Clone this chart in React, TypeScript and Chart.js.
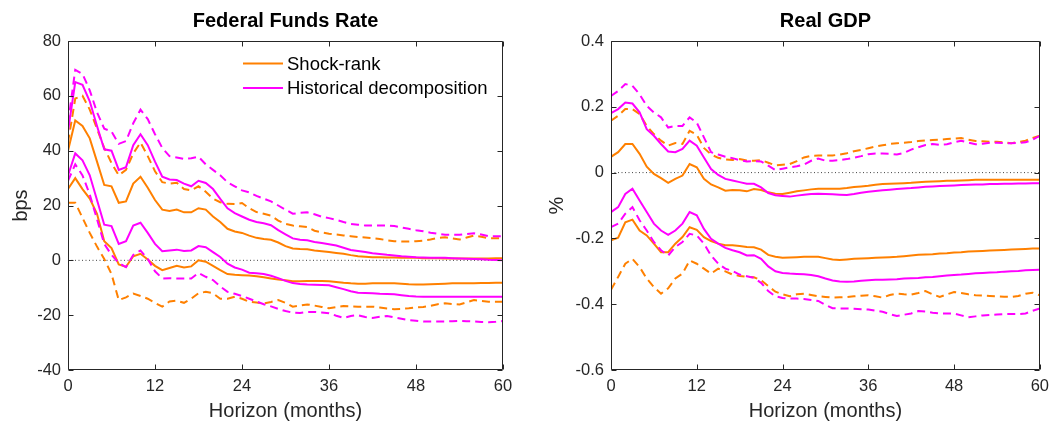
import React, { useEffect, useRef } from "react";
import { Chart, registerables } from "chart.js";
Chart.register(...registerables);

// Horizon (months)
const horizon = [
  0, 1, 2, 3, 4, 5, 6, 7, 8, 9, 10, 11, 12, 13, 14, 15, 16, 17, 18, 19, 20,
  21, 22, 23, 24, 25, 26, 27, 28, 29, 30, 31, 32, 33, 34, 35, 36, 37, 38, 39, 40,
  41, 42, 43, 44, 45, 46, 47, 48, 49, 50, 51, 52, 53, 54, 55, 56, 57, 58, 59, 60,
];
const xTicks = [0, 12, 24, 36, 48, 60];
const legendLabels = ["Shock-rank", "Historical decomposition"];
const panelTitles = ["Federal Funds Rate", "Real GDP"];
const yTitles = ["bps", "%"];
const xTitle = "Horizon (months)";

// Federal Funds Rate (bps) — Shock-rank (orange)
const ffrSrHi = [40, 51, 49, 44.5, 36, 27.5, 27, 21, 21.5, 28, 30.5, 26.5, 22, 18.5, 18, 18.5, 17.5, 17.5, 19, 18.5, 16, 14, 11.5, 10.5, 10, 9, 8.2, 7.8, 7.5, 6.5, 5.2, 4.3, 4.1, 4, 3.6, 3.3, 3, 2.7, 2.4, 1.9, 1.5, 1.3, 1.1, 1.1, 1, 1, 0.9, 0.9, 0.9, 0.8, 0.8, 0.8, 0.7, 0.7, 0.7, 0.7, 0.7, 0.7, 0.7, 0.8, 0.8];
const ffrSrLo = [26, 30, 26, 22.5, 17, 7, 4.5, -1.5, -2.4, 1.5, 2.4, 0.3, -2, -3.6, -2.8, -2, -2.6, -2.2, 0, -0.5, -2, -3.6, -5, -5.3, -5.4, -5.5, -5.8, -6.2, -6.6, -7, -7.3, -7.6, -7.6, -7.5, -7.5, -7.5, -7.6, -7.9, -8.2, -8.4, -8.5, -8.5, -8.4, -8.4, -8.4, -8.4, -8.5, -8.7, -8.8, -8.8, -8.7, -8.6, -8.5, -8.4, -8.4, -8.4, -8.4, -8.3, -8.3, -8.2, -8.2];
const ffrSrHi90 = [43, 59, 60, 55, 48, 41, 35.5, 31, 33, 39, 43, 38, 32.5, 28.5, 28, 28.3, 26, 25.5, 27, 25, 22.5, 21.2, 20.6, 20.5, 20.9, 19, 17.6, 17, 16.3, 14.5, 13.3, 12.7, 12.4, 12.1, 10.8, 10.2, 9.7, 9.4, 9.1, 8.8, 8.5, 8.3, 8.1, 7.8, 7.3, 7, 6.9, 6.9, 7, 7.2, 7.6, 8.2, 8.4, 8, 7.6, 8.3, 9, 8.6, 8.1, 8.1, 8.1];
const ffrSrLo90 = [21, 21, 15.5, 10, 5, 0.5, -5, -14.5, -13.5, -12.1, -13, -14, -15.5, -16.9, -15, -14.7, -15.5, -14, -12, -11.5, -12, -14, -14, -13.3, -14, -15.1, -15.4, -15.7, -15.2, -14.5, -15.5, -16.9, -16.5, -16.1, -16.5, -17, -17.5, -17.1, -16.7, -16.8, -16.9, -16.9, -16.9, -17.2, -17.6, -17.8, -17.7, -17.5, -17.2, -17, -16.6, -16, -15.7, -15.9, -16.1, -15.3, -14.5, -14.8, -15.1, -15.1, -15.1];
// Federal Funds Rate (bps) — Historical decomposition (magenta)
const ffrHdHi = [47, 65, 64, 58, 49, 40.5, 40, 33, 34, 42, 46, 42, 36, 30.5, 29.5, 29.3, 28, 27, 29, 28.2, 26, 22.4, 19, 17.2, 16, 14.8, 14, 13.5, 12.8, 11, 9.5, 8, 7.5, 7.3, 6.7, 6.3, 5.9, 5.4, 4.6, 3.8, 3.4, 3, 2.6, 2.3, 2, 1.8, 1.5, 1.3, 1.1, 1, 0.9, 0.9, 0.9, 0.8, 0.7, 0.6, 0.5, 0.4, 0.2, 0.1, 0];
const ffrHdLo = [31, 39, 36.5, 31, 22, 13, 12.5, 6, 7, 12.7, 13.7, 10, 6, 3.3, 3.6, 3.9, 3.4, 3.6, 5.2, 4.8, 3, 1.2, -1.2, -2.6, -3.4, -4.5, -4.7, -5, -5.6, -6.5, -7.5, -8.3, -8.6, -8.8, -8.9, -9, -9.1, -9.8, -10.5, -11.3, -11.8, -11.9, -12, -12.2, -12.3, -12.4, -12.7, -13, -13.2, -13.3, -13.3, -13.3, -13.3, -13.3, -13.3, -13.3, -13.3, -13.3, -13.3, -13.3, -13.3];
const ffrHdHi90 = [50, 69.5, 68, 62, 54, 48, 47, 42.5, 43.5, 50, 55, 51.5, 46, 41, 38, 37.5, 37, 37.2, 37.8, 35, 33, 31, 28.5, 27, 25.5, 24.8, 23.5, 22.5, 21.5, 20, 18.5, 17, 17.3, 17.5, 16.8, 15.9, 15.4, 14.8, 14, 13.3, 13, 12.7, 12.7, 12.7, 12.7, 12.5, 12, 11.5, 11, 10.6, 10.1, 9.7, 9.3, 9.3, 9.3, 9.6, 9.9, 9.4, 8.8, 8.8, 8.8];
const ffrHdLo90 = [29, 35, 31, 24, 15, 6, 2, -1, -2.5, 2, 3.6, 0.5, -4, -6.6, -6.5, -6.6, -6.6, -6.6, -4.6, -6, -7.2, -9.5, -11.5, -12.2, -13, -14, -15, -16, -16.8, -17.7, -18.5, -19.1, -19.2, -18.8, -18.8, -19, -19.3, -20.2, -21, -20.3, -20, -20.7, -21, -20.6, -20.3, -20.8, -21.3, -21.8, -22, -22.3, -22.3, -22.3, -22.3, -22.2, -22.1, -22.2, -22.3, -22.5, -22.6, -22.4, -22.1];

// Real GDP (%) — Shock-rank (orange)
const gdpSrHi = [0.048, 0.062, 0.087, 0.087, 0.057, 0.018, -0.004, -0.017, -0.031, -0.019, -0.009, 0.026, 0.016, -0.019, -0.036, -0.045, -0.055, -0.053, -0.054, -0.057, -0.05, -0.053, -0.06, -0.064, -0.065, -0.061, -0.057, -0.054, -0.051, -0.049, -0.049, -0.049, -0.049, -0.047, -0.044, -0.042, -0.04, -0.037, -0.035, -0.034, -0.033, -0.032, -0.031, -0.029, -0.028, -0.027, -0.026, -0.025, -0.025, -0.024, -0.023, -0.022, -0.022, -0.022, -0.022, -0.022, -0.022, -0.022, -0.022, -0.022, -0.022];
const gdpSrLo = [-0.206, -0.198, -0.151, -0.143, -0.176, -0.191, -0.216, -0.242, -0.242, -0.216, -0.196, -0.166, -0.174, -0.196, -0.208, -0.216, -0.221, -0.221, -0.223, -0.226, -0.227, -0.234, -0.25, -0.256, -0.259, -0.258, -0.257, -0.256, -0.256, -0.256, -0.26, -0.264, -0.266, -0.264, -0.262, -0.261, -0.26, -0.259, -0.258, -0.257, -0.256, -0.254, -0.252, -0.25, -0.249, -0.248, -0.246, -0.245, -0.243, -0.242, -0.24, -0.239, -0.238, -0.237, -0.236, -0.235, -0.234, -0.233, -0.232, -0.231, -0.231];
const gdpSrHi90 = [0.158, 0.173, 0.193, 0.193, 0.178, 0.142, 0.117, 0.097, 0.082, 0.09, 0.087, 0.127, 0.115, 0.075, 0.055, 0.045, 0.04, 0.038, 0.041, 0.037, 0.036, 0.038, 0.03, 0.022, 0.024, 0.026, 0.035, 0.046, 0.051, 0.052, 0.052, 0.052, 0.055, 0.059, 0.065, 0.069, 0.074, 0.079, 0.083, 0.087, 0.089, 0.091, 0.093, 0.096, 0.098, 0.099, 0.1, 0.102, 0.103, 0.105, 0.1, 0.096, 0.095, 0.094, 0.094, 0.092, 0.089, 0.093, 0.097, 0.105, 0.112];
const gdpSrLo90 = [-0.356, -0.317, -0.277, -0.262, -0.287, -0.322, -0.348, -0.368, -0.352, -0.322, -0.307, -0.267, -0.277, -0.292, -0.307, -0.292, -0.3, -0.31, -0.314, -0.317, -0.318, -0.327, -0.345, -0.362, -0.37, -0.376, -0.37, -0.368, -0.372, -0.376, -0.378, -0.38, -0.379, -0.378, -0.376, -0.374, -0.373, -0.376, -0.38, -0.372, -0.368, -0.37, -0.371, -0.366, -0.36, -0.37, -0.378, -0.37, -0.363, -0.366, -0.37, -0.373, -0.374, -0.375, -0.376, -0.377, -0.378, -0.375, -0.368, -0.365, -0.373];
// Real GDP (%) — Historical decomposition (magenta)
const gdpHdHi = [0.181, 0.193, 0.213, 0.21, 0.183, 0.132, 0.112, 0.087, 0.064, 0.062, 0.072, 0.097, 0.082, 0.046, 0.011, -0.007, -0.019, -0.024, -0.029, -0.034, -0.034, -0.045, -0.062, -0.069, -0.071, -0.073, -0.07, -0.067, -0.065, -0.064, -0.065, -0.066, -0.067, -0.068, -0.065, -0.061, -0.058, -0.056, -0.054, -0.052, -0.05, -0.048, -0.047, -0.045, -0.043, -0.042, -0.041, -0.04, -0.039, -0.038, -0.037, -0.036, -0.036, -0.035, -0.035, -0.034, -0.034, -0.033, -0.033, -0.032, -0.032];
const gdpHdLo = [-0.12, -0.105, -0.065, -0.049, -0.085, -0.12, -0.155, -0.176, -0.189, -0.176, -0.155, -0.12, -0.13, -0.171, -0.201, -0.216, -0.229, -0.236, -0.242, -0.252, -0.251, -0.262, -0.285, -0.3, -0.305, -0.307, -0.308, -0.309, -0.311, -0.315, -0.322, -0.328, -0.331, -0.332, -0.331, -0.329, -0.327, -0.326, -0.326, -0.325, -0.324, -0.322, -0.321, -0.32, -0.318, -0.317, -0.315, -0.313, -0.311, -0.31, -0.308, -0.306, -0.305, -0.304, -0.303, -0.301, -0.3, -0.299, -0.297, -0.296, -0.295];
const gdpHdHi90 = [0.233, 0.248, 0.269, 0.264, 0.238, 0.203, 0.183, 0.168, 0.137, 0.142, 0.142, 0.168, 0.152, 0.107, 0.062, 0.055, 0.048, 0.044, 0.038, 0.034, 0.035, 0.034, 0.021, 0.008, 0.012, 0.016, 0.019, 0.024, 0.036, 0.043, 0.036, 0.036, 0.038, 0.041, 0.045, 0.05, 0.056, 0.058, 0.058, 0.057, 0.055, 0.06, 0.07, 0.077, 0.084, 0.087, 0.084, 0.086, 0.092, 0.097, 0.091, 0.086, 0.088, 0.091, 0.091, 0.09, 0.089, 0.09, 0.092, 0.1, 0.112];
const gdpHdLo90 = [-0.166, -0.155, -0.125, -0.105, -0.145, -0.176, -0.211, -0.236, -0.252, -0.226, -0.211, -0.186, -0.191, -0.216, -0.252, -0.277, -0.292, -0.299, -0.31, -0.315, -0.32, -0.335, -0.36, -0.376, -0.381, -0.383, -0.383, -0.384, -0.387, -0.39, -0.402, -0.412, -0.413, -0.413, -0.414, -0.415, -0.416, -0.42, -0.423, -0.43, -0.436, -0.432, -0.428, -0.421, -0.422, -0.426, -0.428, -0.428, -0.428, -0.434, -0.44, -0.437, -0.434, -0.433, -0.431, -0.43, -0.43, -0.43, -0.428, -0.42, -0.413];

const ORANGE = "rgb(255,128,0)";
const MAGENTA = "rgb(255,0,255)";
const AXIS = "#262626";
const FONT = "'Liberation Sans', Arial, Helvetica, sans-serif";

const decorPlugin = {
  id: "panelDecor",
  afterDatasetsDraw(chart: any, _args: any, opts: any) {
    const { ctx, chartArea: a, scales } = chart;
    ctx.save();
    // box with inward ticks
    ctx.strokeStyle = AXIS;
    ctx.lineWidth = 1;
    const L = Math.round(a.left) + 0.5;
    const T = Math.round(a.top) + 0.5;
    const R = Math.round(a.right) - 0.5;
    const B = Math.round(a.bottom) - 0.5;
    ctx.beginPath();
    ctx.rect(L, T, R - L, B - T);
    const tl = 5;
    scales.x.ticks.forEach((t: any) => {
      const px = Math.round(scales.x.getPixelForValue(t.value)) + 0.5;
      ctx.moveTo(px, B);
      ctx.lineTo(px, B - tl);
      ctx.moveTo(px, T);
      ctx.lineTo(px, T + tl);
    });
    scales.y.ticks.forEach((t: any) => {
      const py = Math.round(scales.y.getPixelForValue(t.value)) + 0.5;
      ctx.moveTo(L, py);
      ctx.lineTo(L + tl, py);
      ctx.moveTo(R, py);
      ctx.lineTo(R - tl, py);
    });
    ctx.stroke();
    // title
    ctx.fillStyle = "#000";
    ctx.font = `bold 20px ${FONT}`;
    ctx.textAlign = "center";
    ctx.textBaseline = "middle";
    ctx.fillText(opts.title, (a.left + a.right) / 2, a.top - 20);
    // legend
    if (opts.legend) {
      ctx.font = `18.5px ${FONT}`;
      ctx.textAlign = "left";
      opts.legend.forEach((item: any, i: number) => {
        const y = a.top + 22.5 + i * 24.5;
        const x0 = a.left + 175;
        ctx.strokeStyle = item.color;
        ctx.lineWidth = 2;
        ctx.beginPath();
        ctx.moveTo(x0, y);
        ctx.lineTo(x0 + 40, y);
        ctx.stroke();
        ctx.fillStyle = "#000";
        ctx.fillText(item.label, x0 + 44, y + 1);
      });
    }
    ctx.restore();
  },
};

type PanelProps = {
  title: string;
  yTitle: string;
  yMin: number;
  yMax: number;
  yStep: number;
  series: { data: number[]; color: string; dashed: boolean }[];
  legend?: { label: string; color: string }[];
  left: number;
  yAxisWidth: number;
  padRight: number;
  yTitlePad: number;
};

function Panel(p: PanelProps) {
  const ref = useRef<HTMLCanvasElement | null>(null);
  useEffect(() => {
    if (!ref.current) return;
    const pts = (arr: number[]) => arr.map((v, i) => ({ x: horizon[i], y: v }));
    const datasets: any[] = [
      {
        label: "zero",
        data: [
          { x: horizon[0], y: 0 },
          { x: horizon[horizon.length - 1], y: 0 },
        ],
        borderColor: "#444",
        borderWidth: 1,
        borderDash: [1, 2.5],
        pointRadius: 0,
        order: 5,
      },
      ...p.series.map((s) => ({
        label: s.color,
        data: pts(s.data),
        borderColor: s.color,
        borderWidth: 2,
        borderDash: s.dashed ? [8, 5] : [],
        pointRadius: 0,
        tension: 0,
        order: s.color === MAGENTA ? 1 : 2,
      })),
    ];
    const chart = new Chart(ref.current, {
      type: "line",
      data: { datasets },
      plugins: [decorPlugin as any],
      options: {
        animation: false,
        responsive: false,
        maintainAspectRatio: false,
        layout: { padding: { left: 0, top: 41, right: p.padRight, bottom: 0 } },
        plugins: {
          legend: { display: false },
          tooltip: { enabled: false },
          title: { display: false },
          panelDecor: { title: p.title, legend: p.legend },
        } as any,
        scales: {
          x: {
            type: "linear",
            min: xTicks[0],
            max: xTicks[xTicks.length - 1],
            afterBuildTicks: (s: any) => {
              s.ticks = xTicks.map((v) => ({ value: v }));
            },
            afterFit: (s: any) => {
              s.height = 55;
            },
            grid: { display: false, drawTicks: false },
            border: { display: false },
            ticks: {
              color: AXIS,
              font: { size: 16.5, family: FONT },
              padding: 7,
              maxRotation: 0,
              autoSkip: false,
            },
            title: {
              display: true,
              text: xTitle,
              color: AXIS,
              font: { size: 20, family: FONT },
              padding: { top: 0, bottom: 2 },
            },
          },
          y: {
            type: "linear",
            min: p.yMin,
            max: p.yMax,
            afterFit: (s: any) => {
              s.width = p.yAxisWidth;
            },
            grid: { display: false, drawTicks: false },
            border: { display: false },
            ticks: {
              stepSize: p.yStep,
              color: AXIS,
              font: { size: 16.5, family: FONT },
              padding: 7,
              callback: (v: any) => String(Math.round(Number(v) * 10) / 10),
            },
            title: {
              display: true,
              text: p.yTitle,
              color: AXIS,
              font: { size: 20, family: FONT },
              padding: { top: p.yTitlePad, bottom: 0 },
            },
          },
        },
      } as any,
    });
    return () => chart.destroy();
  }, []);
  return (
    <canvas
      ref={ref}
      width={528}
      height={425}
      style={{ position: "absolute", left: p.left, top: 0, width: 528, height: 425 }}
    />
  );
}

export default function App() {
  const legend = [
    { label: legendLabels[0], color: ORANGE },
    { label: legendLabels[1], color: MAGENTA },
  ];
  return (
    <div
      style={{
        position: "fixed",
        left: 0,
        top: 0,
        width: 1056,
        height: 425,
        background: "#fff",
        overflow: "hidden",
      }}
    >
      <Panel
        title={panelTitles[0]}
        yTitle={yTitles[0]}
        yMin={-40}
        yMax={80}
        yStep={20}
        left={0}
        yAxisWidth={68}
        padRight={25}
        yTitlePad={9}
        legend={legend}
        series={[
          { data: ffrSrHi, color: ORANGE, dashed: false },
          { data: ffrSrLo, color: ORANGE, dashed: false },
          { data: ffrSrHi90, color: ORANGE, dashed: true },
          { data: ffrSrLo90, color: ORANGE, dashed: true },
          { data: ffrHdHi, color: MAGENTA, dashed: false },
          { data: ffrHdLo, color: MAGENTA, dashed: false },
          { data: ffrHdHi90, color: MAGENTA, dashed: true },
          { data: ffrHdLo90, color: MAGENTA, dashed: true },
        ]}
      />
      <Panel
        title={panelTitles[1]}
        yTitle={yTitles[1]}
        yMin={-0.6}
        yMax={0.4}
        yStep={0.2}
        left={528}
        yAxisWidth={83}
        padRight={10}
        yTitlePad={17}
        series={[
          { data: gdpSrHi, color: ORANGE, dashed: false },
          { data: gdpSrLo, color: ORANGE, dashed: false },
          { data: gdpSrHi90, color: ORANGE, dashed: true },
          { data: gdpSrLo90, color: ORANGE, dashed: true },
          { data: gdpHdHi, color: MAGENTA, dashed: false },
          { data: gdpHdLo, color: MAGENTA, dashed: false },
          { data: gdpHdHi90, color: MAGENTA, dashed: true },
          { data: gdpHdLo90, color: MAGENTA, dashed: true },
        ]}
      />
    </div>
  );
}
